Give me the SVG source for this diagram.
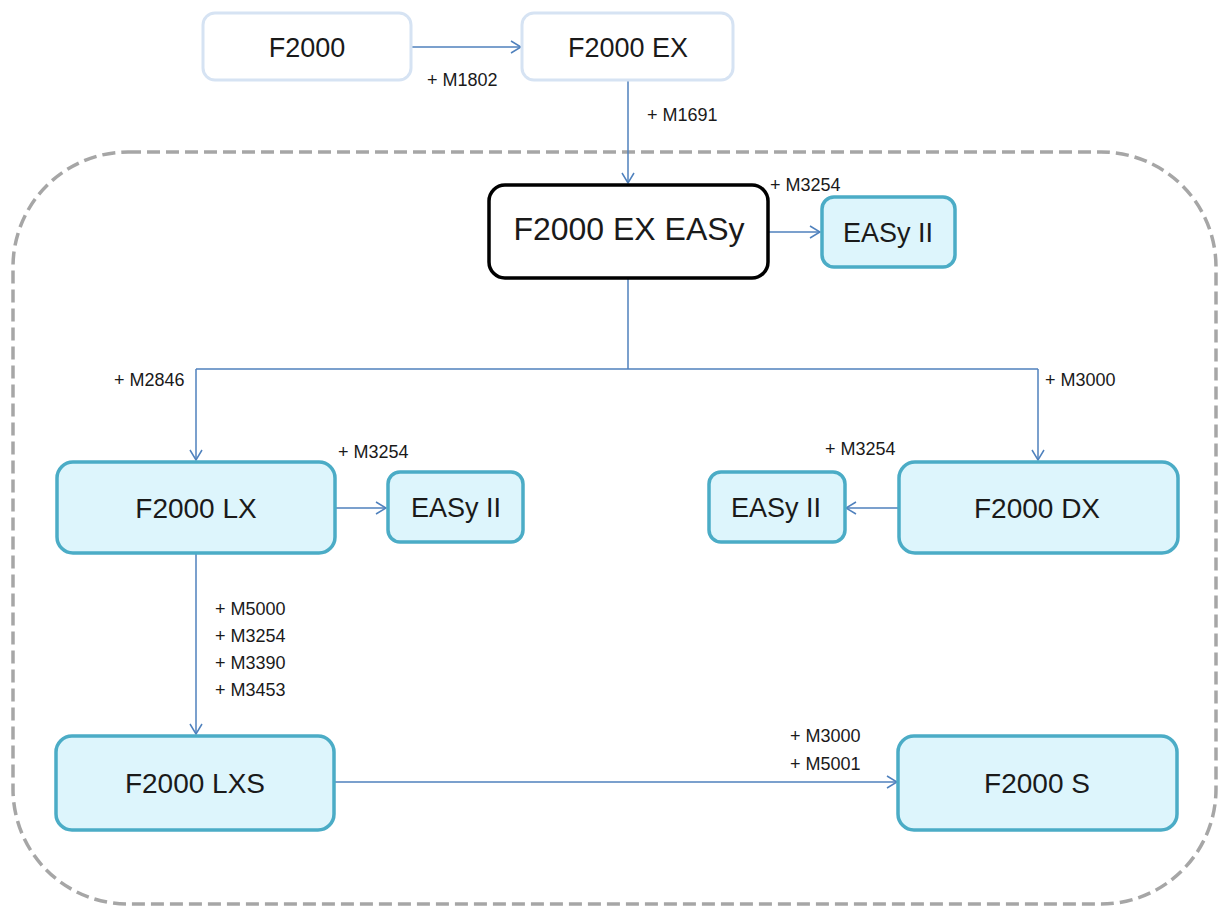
<svg xmlns="http://www.w3.org/2000/svg" width="1218" height="908" viewBox="0 0 1218 908">
<style>
.box{fill:#ddf5fc;stroke:#4bacc6;stroke-width:3.5}
.top{fill:#ffffff;stroke:#d6e3f3;stroke-width:3}
.main{fill:#ffffff;stroke:#000000;stroke-width:3.5}
.t{font-family:"Liberation Sans",Arial,sans-serif;fill:#1a1a1a;text-anchor:middle}
.lbl{font-family:"Liberation Sans",Arial,sans-serif;font-size:18px;fill:#1a1a1a}
.c{fill:none;stroke:#4f81bd;stroke-width:1.5}
.arr{marker-end:url(#ah)}
</style>
<defs>
<marker id="ah" viewBox="0 0 12 14" refX="11" refY="7" markerWidth="12" markerHeight="14" markerUnits="userSpaceOnUse" orient="auto">
<path d="M1,1 L11,7 L1,13" fill="none" stroke="#4f81bd" stroke-width="1.5"/>
</marker>
</defs>
<rect id="container" x="13" y="152" width="1203" height="752" rx="115" ry="115" fill="none" stroke="#a6a6a6" stroke-width="3.5" stroke-dasharray="13 6"/>
<g id="connectors">
<line class="c arr" x1="412" y1="47" x2="521" y2="47"/>
<line class="c arr" x1="628" y1="81" x2="628" y2="183"/>
<line class="c arr" x1="768" y1="232" x2="820" y2="232"/>
<polyline class="c" points="628,279 628,369"/>
<line class="c" x1="196" y1="369" x2="1038" y2="369"/>
<line class="c arr" x1="196" y1="369" x2="196" y2="460"/>
<line class="c arr" x1="1038" y1="369" x2="1038" y2="460"/>
<line class="c arr" x1="335" y1="508" x2="386" y2="508"/>
<line class="c arr" x1="899" y1="508" x2="846" y2="508"/>
<line class="c arr" x1="196" y1="554" x2="196" y2="734"/>
<line class="c arr" x1="335" y1="782" x2="897" y2="782"/>
<text class="lbl" x="427" y="86">+ M1802</text>
<text class="lbl" x="647" y="121">+ M1691</text>
<text class="lbl" x="770" y="191">+ M3254</text>
<text class="lbl" x="114" y="386">+ M2846</text>
<text class="lbl" x="1045" y="386">+ M3000</text>
<text class="lbl" x="338" y="458">+ M3254</text>
<text class="lbl" x="825" y="455">+ M3254</text>
<text class="lbl" x="215" y="615">+ M5000</text>
<text class="lbl" x="215" y="642">+ M3254</text>
<text class="lbl" x="215" y="669">+ M3390</text>
<text class="lbl" x="215" y="696">+ M3453</text>
<text class="lbl" x="790" y="742">+ M3000</text>
<text class="lbl" x="790" y="770">+ M5001</text>
</g>
<g id="n-f2000">
<rect class="top" x="203" y="13" width="208" height="67" rx="12"/>
<text class="t" x="307" y="57" font-size="27">F2000</text>
</g>
<g id="n-f2000ex">
<rect class="top" x="522" y="13" width="211" height="67" rx="12"/>
<text class="t" x="628" y="57" font-size="27">F2000 EX</text>
</g>
<g id="n-easy">
<rect class="main" x="489" y="185" width="279" height="93" rx="16"/>
<text class="t" x="629" y="240" font-size="32">F2000 EX EASy</text>
</g>
<g id="n-easy2-top">
<rect class="box" x="822" y="197" width="133" height="70" rx="12"/>
<text class="t" x="888" y="242" font-size="27">EASy II</text>
</g>
<g id="n-lx">
<rect class="box" x="57" y="462" width="278" height="91" rx="16"/>
<text class="t" x="196" y="518" font-size="28">F2000 LX</text>
</g>
<g id="n-easy2-lx">
<rect class="box" x="388" y="472" width="135" height="70" rx="12"/>
<text class="t" x="456" y="517" font-size="27">EASy II</text>
</g>
<g id="n-easy2-dx">
<rect class="box" x="709" y="472" width="136" height="70" rx="12"/>
<text class="t" x="776" y="517" font-size="27">EASy II</text>
</g>
<g id="n-dx">
<rect class="box" x="899" y="462" width="279" height="91" rx="16"/>
<text class="t" x="1037" y="518" font-size="28">F2000 DX</text>
</g>
<g id="n-lxs">
<rect class="box" x="56" y="736" width="278" height="94" rx="16"/>
<text class="t" x="195" y="793" font-size="28">F2000 LXS</text>
</g>
<g id="n-s">
<rect class="box" x="898" y="736" width="279" height="94" rx="16"/>
<text class="t" x="1037" y="793" font-size="28">F2000 S</text>
</g>
</svg>
